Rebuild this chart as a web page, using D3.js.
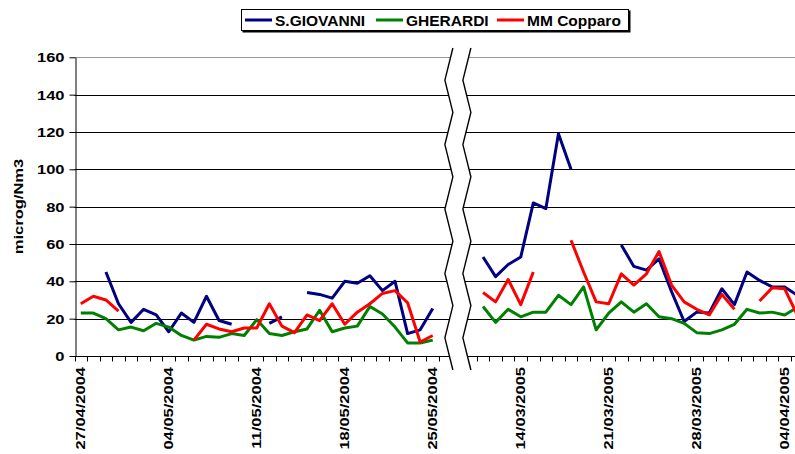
<!DOCTYPE html>
<html lang="en">
<head>
<meta charset="UTF-8">
<title>S.GIOVANNI - GHERARDI - MM Copparo</title>
<style>
    body { margin: 0; background: #fff; }
    text { font-family: "Liberation Sans", Arial, sans-serif; font-weight: bold; fill: #000; }
</style>
</head>
<body>

<svg width="795" height="454"></svg>

<script src="https://d3js.org/d3.v7.min.js"></script>
<script>

// Categories: one per day, two periods (2004 and 2005)
const categories = [
    '27/04/2004', '28/04/2004', '29/04/2004', '30/04/2004', '01/05/2004', '02/05/2004',
    '03/05/2004', '04/05/2004', '05/05/2004', '06/05/2004', '07/05/2004', '08/05/2004',
    '09/05/2004', '10/05/2004', '11/05/2004', '12/05/2004', '13/05/2004', '14/05/2004',
    '15/05/2004', '16/05/2004', '17/05/2004', '18/05/2004', '19/05/2004', '20/05/2004',
    '21/05/2004', '22/05/2004', '23/05/2004', '24/05/2004', '25/05/2004', '26/05/2004',
    '09/03/2005', '10/03/2005', '11/03/2005', '12/03/2005', '13/03/2005', '14/03/2005',
    '15/03/2005', '16/03/2005', '17/03/2005', '18/03/2005', '19/03/2005', '20/03/2005',
    '21/03/2005', '22/03/2005', '23/03/2005', '24/03/2005', '25/03/2005', '26/03/2005',
    '27/03/2005', '28/03/2005', '29/03/2005', '30/03/2005', '31/03/2005', '01/04/2005',
    '02/04/2005', '03/04/2005', '04/04/2005', '05/04/2005'
];

// Dates that carry a label on the x axis
const labelledDates = [
    '27/04/2004', '04/05/2004', '11/05/2004', '18/05/2004', '25/05/2004',
    '14/03/2005', '21/03/2005', '28/03/2005', '04/04/2005'
];

// The axis break sits on this category
const breakDate = '09/03/2005';

const yTicks = [0, 20, 40, 60, 80, 100, 120, 140, 160];

const seriesNames = ['S.GIOVANNI', 'GHERARDI', 'MM Copparo'];
const seriesColors = ['#000080', '#008000', '#ff0000'];

const sGiovanni = [
    null, null, 45, 28, 18, 25, 22, 13, 23, 18, 32, 19, 17, null, null, 17.5, 21, null,
    34, 33, 31, 40, 39, 43, 35, 40, 12, 14, 25.5, null,
    null, null, 53, 42.5, 49, 53, 82, 79, 119, 100, null, null, null, 59.5, 48, 46, 52, 34.5,
    18.5, 23.5, 23, 36, 27.5, 45, 40.5, 37, 37, 32.5
];

const gherardi = [
    23, 23, 20, 14, 15.5, 13.5, 17.5, 15.5, 11, 8.5, 10.5, 10, 12, 11, 19.5, 12, 11, 13,
    14.5, 24.5, 13, 15, 16, 26.5, 22.5, 15.5, 7, 7, 8.5, null,
    null, null, 26.5, 18, 25, 21, 23.5, 23.5, 32.5, 27.5, 37, 14, 23, 29, 23.5, 28, 21, 20,
    17.5, 12.5, 12, 14, 17, 25, 23, 23.5, 22, 26
];

const mmCopparo = [
    28, 32, 30, 24, null, null, null, null, null, 8.5, 17, 14.5, 13, 15, 15, 28, 16, 12.5,
    22, 19, 28, 17, 23.5, 28, 33.5, 35, 28.5, 7.5, 11, null,
    null, null, 34, 29, 41, 27.5, 45, null, null, 62, 45, 29, 28, 44, 38, 44, 56, 38,
    29, 25, 22, 33, 25, null, 29.5, 36.5, 36, 22
];

const seriesValues = [sGiovanni, gherardi, mmCopparo];

// Text in the picture is drawn wider than the font, stretch along the baseline
const stretch = 1.27;

const svg = d3.select('svg');

const left = 74.5;
const bandWidth = 12.57;
const plotTop = 57.3;
const plotBottom = 356;

const xScale = d3.scaleBand()
    .domain(categories)
    .range([left, left + bandWidth * categories.length])
    .padding(0);

const yScale = d3.scaleLinear()
    .domain([0, 160])
    .range([plotBottom, plotTop]);

const xCenter = function (c) {
    return xScale(c) + xScale.bandwidth() / 2;
};

const crisp = function (v) {
    return Math.round(v) + 0.5;
};

const rightEdge = xScale.range()[1];

// Gridlines
svg.append('g')
    .selectAll('line')
    .data(yTicks)
    .enter()
    .append('line')
    .attr('x1', left)
    .attr('x2', rightEdge)
    .attr('y1', function (d) { return crisp(yScale(d)); })
    .attr('y2', function (d) { return crisp(yScale(d)); })
    .attr('stroke', function (d) { return d === 160 ? '#999' : '#000'; })
    .attr('stroke-width', 1);

// y axis
const yAxisG = svg.append('g')
    .attr('transform', 'translate(' + crisp(left) + ' 0)')
    .call(d3.axisLeft(yScale).tickValues(yTicks).tickSize(6).tickSizeOuter(0).tickPadding(11));

yAxisG.select('.domain').attr('stroke', '#000');
yAxisG.selectAll('.tick line').attr('stroke', '#000');
yAxisG.selectAll('.tick text')
    .attr('x', null)
    .attr('dy', null)
    .attr('transform', 'translate(-11 4.6) scale(' + stretch + ' 1)')
    .style('font-size', '13px')
    .style('font-weight', 'bold')
    .style('font-family', '"Liberation Sans", Arial, sans-serif');

// y axis title
svg.append('text')
    .text('microg/Nm3')
    .attr('text-anchor', 'middle')
    .attr('transform', 'translate(23 206.5) rotate(-90) scale(' + stretch + ' 1)')
    .style('font-size', '13px');

// x axis tick marks between categories
const boundaries = categories.map(function (c) { return xScale(c); }).concat([rightEdge]);

svg.append('g')
    .selectAll('line')
    .data(boundaries)
    .enter()
    .append('line')
    .attr('x1', function (d) { return crisp(d); })
    .attr('x2', function (d) { return crisp(d); })
    .attr('y1', crisp(plotBottom))
    .attr('y2', crisp(plotBottom) + 5)
    .attr('stroke', '#000');

// x axis labels
svg.append('g')
    .selectAll('text')
    .data(labelledDates)
    .enter()
    .append('text')
    .text(function (d) { return d; })
    .attr('text-anchor', 'end')
    .attr('dy', '0.36em')
    .attr('transform', function (d) {
        return 'translate(' + xCenter(d) + ' 367) rotate(-90) scale(' + stretch + ' 1)';
    })
    .style('font-size', '13px');

// Series lines (gaps where there is no value)
const line = d3.line()
    .defined(function (d) { return d.v !== null; })
    .x(function (d) { return xCenter(d.c); })
    .y(function (d) { return yScale(d.v); });

svg.append('g')
    .selectAll('path')
    .data(seriesValues)
    .enter()
    .append('path')
    .attr('d', function (values) {
        return line(values.map(function (v, i) { return { c: categories[i], v: v }; }));
    })
    .attr('fill', 'none')
    .attr('stroke', function (d, i) { return seriesColors[i]; })
    .attr('stroke-width', 3)
    .attr('stroke-linejoin', 'round');

// Axis break: white band between two zigzag lines
const breakX = xCenter(breakDate);
const zigTop = 48;
const zigBottom = 370;
const zigSteps = 10;

const zigzag = function (cx) {
    const pts = [];
    for (let k = 0; k <= zigSteps; k++) {
        const y = zigTop + (zigBottom - zigTop) * k / zigSteps;
        pts.push([cx + (k % 2 === 0 ? 4 : -4), y]);
    }
    return pts;
};

const leftZig = zigzag(breakX - 9);
const rightZig = zigzag(breakX + 9);

svg.append('polygon')
    .attr('points', leftZig.concat(rightZig.slice().reverse()).map(function (p) { return p.join(','); }).join(' '))
    .attr('fill', '#fff');

[leftZig, rightZig].forEach(function (pts) {
    svg.append('polyline')
        .attr('points', pts.map(function (p) { return p.join(','); }).join(' '))
        .attr('fill', 'none')
        .attr('stroke', '#000')
        .attr('stroke-width', 1.4);
});

// Legend
const legend = svg.append('g');

legend.append('rect')
    .attr('x', 242.5)
    .attr('y', 10.5)
    .attr('width', 388)
    .attr('height', 22)
    .attr('fill', '#000');

legend.append('rect')
    .attr('x', 241.5)
    .attr('y', 9.5)
    .attr('width', 387)
    .attr('height', 21)
    .attr('fill', '#fff')
    .attr('stroke', '#000');

const legendX = [245, 376, 497];

seriesNames.forEach(function (name, i) {
    legend.append('line')
        .attr('x1', legendX[i])
        .attr('x2', legendX[i] + 27)
        .attr('y1', 20)
        .attr('y2', 20)
        .attr('stroke', seriesColors[i])
        .attr('stroke-width', 3);

    legend.append('text')
        .text(name)
        .attr('x', legendX[i] + 30)
        .attr('y', 26.2)
        .style('font-size', '15.5px');
});

</script>
</body>
</html>
